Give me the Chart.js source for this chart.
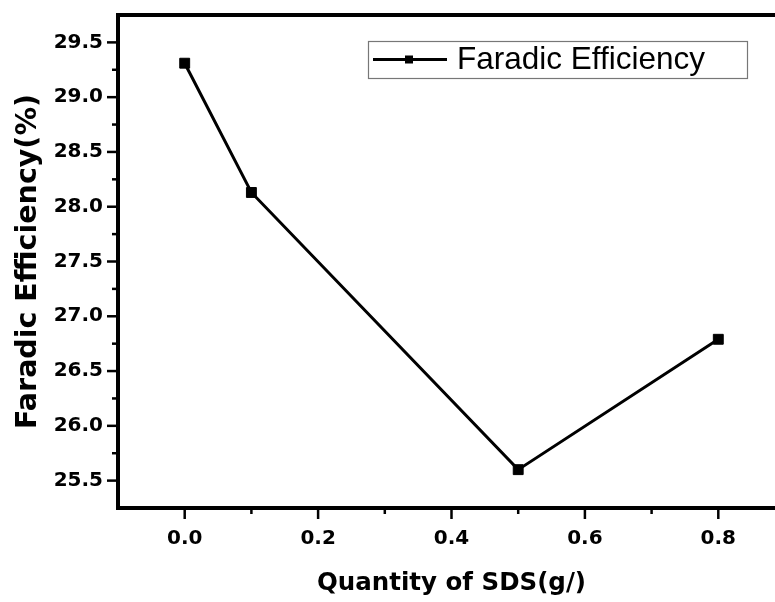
<!DOCTYPE html>
<html>
<head>
<meta charset="utf-8">
<script src="https://cdn.jsdelivr.net/npm/chart.js@4/dist/chart.umd.min.js"></script>
<style>
  html, body { margin: 0; padding: 0; background: #fff; }
  #wrap { width: 775px; height: 602px; overflow: hidden; position: relative; }
  canvas { display: block; }
</style>
</head>
<body>
<div id="wrap"><canvas id="fe" width="800" height="602"></canvas></div>
<script>
// values
const sdsQuantity = [0.0, 0.1, 0.5, 0.8];
const faradicEfficiency = [29.31, 28.13, 25.60, 26.79];
const seriesLabel = 'Faradic Efficiency';
const xTitle = 'Quantity of SDS(g/)';
const yTitle = 'Faradic Efficiency(%)';

const BOLD = '"DejaVu Sans", sans-serif';

// frame, ticks (major + minor) and the boxed legend
const framePlugin = {
    id: 'frame',
    afterDraw(chart) {
        const ctx = chart.ctx;
        const a = chart.chartArea;
        const xs = chart.scales.x, ys = chart.scales.y;
        ctx.save();
        ctx.strokeStyle = '#000';
        ctx.lineCap = 'square';
        ctx.lineWidth = 4;
        ctx.beginPath();
        ctx.moveTo(a.left, a.bottom); ctx.lineTo(a.left, a.top);
        ctx.lineTo(a.right, a.top); ctx.lineTo(a.right, a.bottom);
        ctx.closePath();
        ctx.stroke();

        ctx.lineCap = 'butt';
        ctx.lineWidth = 2.5;
        xs.ticks.forEach(t => {
            const k = Math.round(t.value * 10);
            if (t.value <= xs.min + 1e-9 || t.value >= xs.max - 1e-9) return;
            const len = (k % 2 === 0) ? 11 : 6;
            const px = xs.getPixelForValue(t.value);
            ctx.beginPath(); ctx.moveTo(px, a.bottom); ctx.lineTo(px, a.bottom + len); ctx.stroke();
        });
        ys.ticks.forEach(t => {
            const k = Math.round(t.value * 4);
            if (t.value <= ys.min + 1e-9 || t.value >= ys.max - 1e-9) return;
            const len = (k % 2 === 0) ? 11 : 6;
            const py = ys.getPixelForValue(t.value);
            ctx.beginPath(); ctx.moveTo(a.left, py); ctx.lineTo(a.left - len, py); ctx.stroke();
        });

        // legend
        const ds = chart.data.datasets[0];
        const bx = a.left + 250, by = a.top + 26, bw = 379, bh = 37;
        ctx.lineWidth = 1.2;
        ctx.strokeStyle = '#777';
        ctx.strokeRect(bx + 0.5, by + 0.5, bw, bh);
        const cy = by + bh / 2;
        ctx.strokeStyle = '#000';
        ctx.lineWidth = 3;
        ctx.beginPath(); ctx.moveTo(bx + 5, cy); ctx.lineTo(bx + 79, cy); ctx.stroke();
        ctx.fillStyle = '#000';
        ctx.fillRect(bx + 37, cy - 4, 8, 8);
        ctx.font = '31.5px "Liberation Sans", Arial, sans-serif';
        ctx.textBaseline = 'middle';
        ctx.fillText(ds.label, bx + 89, cy + 1);
        ctx.restore();
    }
};

function noPad(s) {
    s.paddingTop = 0; s.paddingBottom = 0; s.paddingLeft = 0; s.paddingRight = 0;
}

new Chart(document.getElementById('fe'), {
    type: 'line',
    data: {
        datasets: [{
            label: seriesLabel,
            data: sdsQuantity.map((x, i) => ({ x, y: faradicEfficiency[i] })),
            borderColor: '#000',
            backgroundColor: '#000',
            borderWidth: 3,
            pointStyle: 'rect',
            pointRadius: 7,
            pointBorderWidth: 1,
            pointBackgroundColor: '#000',
            tension: 0
        }]
    },
    options: {
        responsive: false,
        animation: false,
        devicePixelRatio: 1,
        layout: { padding: { top: 15, right: 15, left: 0, bottom: 0 } },
        plugins: { legend: { display: false }, tooltip: { enabled: false } },
        scales: {
            x: {
                type: 'linear', min: -0.1, max: 0.9,
                grid: { display: false },
                border: { display: false },
                afterFit: s => { s.height = 94; noPad(s); },
                ticks: {
                    stepSize: 0.1, autoSkip: false, maxRotation: 0, padding: 11,
                    color: '#000', font: { family: BOLD, size: 20, weight: 'bold' },
                    callback: v => (Math.round(v * 10) % 2 === 0 && v > -0.05) ? v.toFixed(1) : ''
                },
                title: {
                    display: true, text: xTitle, color: '#000',
                    font: { family: BOLD, size: 24.5, weight: 'bold' },
                    padding: { top: 0, bottom: 4 }
                }
            },
            y: {
                min: 25.25, max: 29.75,
                grid: { display: false },
                border: { display: false },
                afterFit: s => { s.width = 118; noPad(s); },
                ticks: {
                    stepSize: 0.25, autoSkip: false, padding: 7,
                    color: '#000', font: { family: BOLD, size: 20, weight: 'bold' },
                    callback: v => (Math.round(v * 4) % 2 === 0) ? v.toFixed(1) : ''
                },
                title: {
                    display: true, text: yTitle, color: '#000',
                    font: { family: BOLD, size: 28.5, weight: 'bold' },
                    padding: { top: 11, bottom: 0 }
                }
            }
        }
    },
    plugins: [framePlugin]
});
</script>
</body>
</html>
